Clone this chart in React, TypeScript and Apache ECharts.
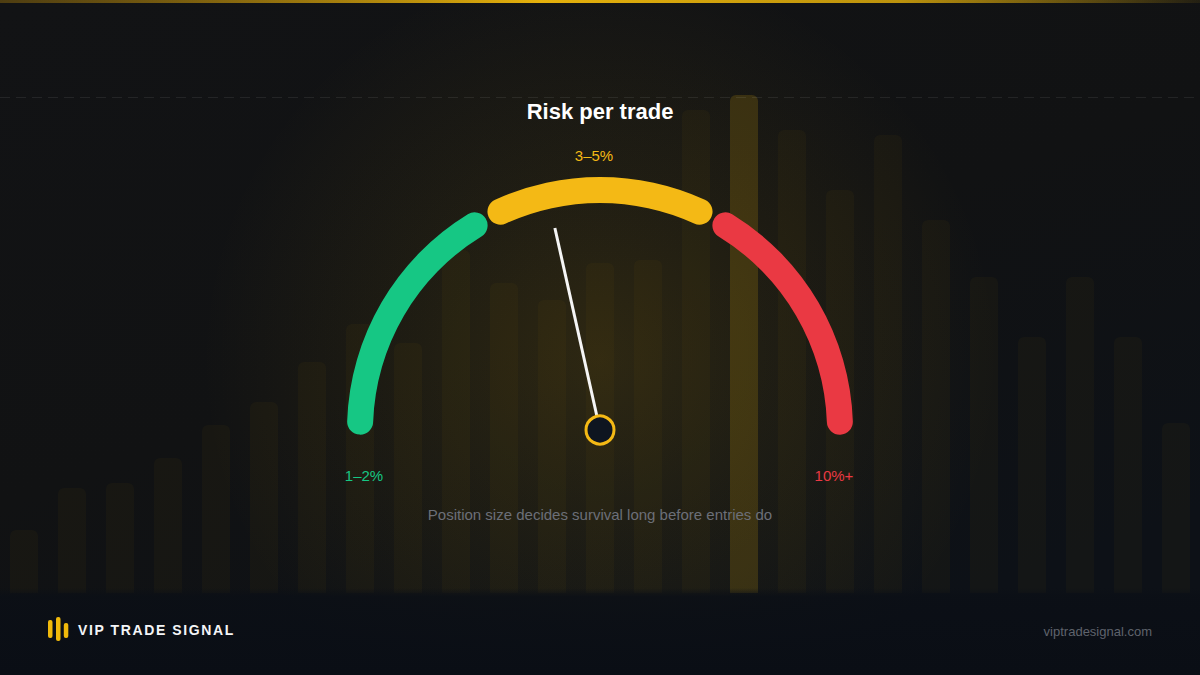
import React, { useEffect, useRef } from "react";
import * as echarts from "echarts";

// ---------- data ----------
const barCategories = ["1", "2", "3", "4", "5", "6", "7", "8", "9", "10", "11", "12", "13", "14", "15", "16", "17", "18", "19", "20", "21", "22", "23", "24", "25"];
const barValues = [63, 105, 110, 135, 168, 191, 231, 269, 250, 343, 310, 293, 330, 333, 483, 498, 463, 403, 458, 373, 316, 256, 316, 256, 170];
const highlightBarIndex = 15;

const segmentLabels = ["1–2%", "3–5%", "10%+"];
const segmentColors = ["#16c784", "#f4b915", "#ea3943"];
const segmentStartAngles = [178, 114.5, 58.5];
const segmentEndAngles = [121.5, 65.5, 2];

const needleValue = 43; // on a 0–100 scale spanning the half circle
const gaugeMin = 0;
const gaugeMax = 100;

const titleText = "Risk per trade";
const subtitleText = "Position size decides survival long before entries do";
const brandText = "VIP TRADE SIGNAL";
const siteText = "viptradesignal.com";

// ---------- layout / style ----------
const FONT = '"Liberation Sans", Arial, Helvetica, sans-serif';
const CX = 600;
const CY = 430;
const ARC_W = 26;
const RADIUS = 240 + ARC_W / 2;
const labelOffsets: [number, number][] = [
  [-236, 45],
  [-6, -275],
  [234, 45],
];

export default function App() {
  const ref = useRef<HTMLDivElement>(null);

  useEffect(() => {
    if (!ref.current) return;
    const chart = echarts.init(ref.current, undefined, { renderer: "svg" });

    const segmentSeries = segmentLabels.map((label, i) => ({
      type: "gauge",
      center: [CX, CY],
      radius: RADIUS,
      startAngle: segmentStartAngles[i],
      endAngle: segmentEndAngles[i],
      min: 0,
      max: 1,
      z: 5,
      axisLine: {
        show: true,
        roundCap: true,
        lineStyle: { width: ARC_W, color: [[1, segmentColors[i]]] },
      },
      axisTick: { show: false },
      splitLine: { show: false },
      axisLabel: { show: false },
      pointer: { show: false },
      anchor: { show: false },
      progress: { show: false },
      title: {
        show: true,
        offsetCenter: labelOffsets[i],
        color: segmentColors[i],
        fontSize: 15,
        fontFamily: FONT,
      },
      detail: { show: false },
      data: [{ value: 0, name: label }],
    }));

    const option: any = {
      animation: false,
      backgroundColor: "#111214",
      title: [
        {
          text: titleText,
          left: "center",
          top: 100,
          padding: 0,
          textStyle: { color: "#ffffff", fontSize: 22, fontWeight: "bold", fontFamily: FONT },
        },
        {
          text: subtitleText,
          left: "center",
          top: 507,
          padding: 0,
          textStyle: { color: "#6c6f78", fontSize: 15, fontWeight: "normal", fontFamily: FONT },
        },
      ],
      grid: { left: 0, right: 0, top: 0, bottom: 82, containLabel: false },
      xAxis: {
        type: "category",
        data: barCategories,
        show: false,
        boundaryGap: true,
      },
      yAxis: { type: "value", min: 0, max: 593, show: false },
      graphic: [
        {
          type: "rect",
          z: -10,
          silent: true,
          shape: { x: 0, y: 0, width: 1200, height: 675 },
          style: {
            fill: {
              type: "linear",
              x: 0,
              y: 0,
              x2: 0.6,
              y2: 1,
              colorStops: [
                { offset: 0, color: "#121315" },
                { offset: 0.55, color: "#111213" },
                { offset: 1, color: "#0d1117" },
              ],
            },
          },
        },
        {
          type: "rect",
          z: -9,
          silent: true,
          shape: { x: 0, y: 0, width: 1200, height: 675 },
          style: {
            fill: {
              type: "radial",
              x: 600,
              y: 360,
              r: 400,
              global: true,
              colorStops: [
                { offset: 0, color: "rgba(240,185,11,0.13)" },
                { offset: 0.45, color: "rgba(240,185,11,0.065)" },
                { offset: 1, color: "rgba(240,185,11,0)" },
              ],
            },
          },
        },
        {
          type: "rect",
          z: 3,
          silent: true,
          shape: { x: 0, y: 588, width: 1200, height: 87 },
          style: {
            fill: {
              type: "linear",
              x: 0,
              y: 0,
              x2: 0,
              y2: 1,
              colorStops: [
                { offset: 0, color: "rgba(11,15,22,0)" },
                { offset: 0.1, color: "rgba(11,15,22,0.85)" },
                { offset: 1, color: "#0a0e15" },
              ],
            },
          },
        },
        {
          type: "rect",
          z: 4,
          silent: true,
          shape: { x: 0, y: 0, width: 1200, height: 3 },
          style: {
            fill: {
              type: "linear",
              x: 0,
              y: 0,
              x2: 1,
              y2: 0,
              colorStops: [
                { offset: 0, color: "rgba(190,140,10,0.35)" },
                { offset: 0.45, color: "rgba(240,185,11,0.95)" },
                { offset: 0.75, color: "rgba(230,178,11,0.8)" },
                { offset: 1, color: "rgba(240,185,11,0.08)" },
              ],
            },
          },
        },
        {
          type: "line",
          z: 4,
          silent: true,
          shape: { x1: 0, y1: 97.5, x2: 1200, y2: 97.5 },
          style: { stroke: "rgba(255,255,255,0.08)", lineWidth: 1, lineDash: [10, 6] },
        },
        {
          type: "rect",
          z: 6,
          shape: { x: 48, y: 620, width: 4.5, height: 18, r: 2 },
          style: { fill: "#f0b90b" },
        },
        {
          type: "rect",
          z: 6,
          shape: { x: 56, y: 617, width: 4.5, height: 24, r: 2 },
          style: { fill: "#f0b90b" },
        },
        {
          type: "rect",
          z: 6,
          shape: { x: 63.8, y: 623, width: 4.5, height: 15, r: 2 },
          style: { fill: "#f0b90b" },
        },
        {
          type: "text",
          z: 6,
          x: 1152,
          y: 631,
          style: {
            text: siteText,
            fill: "#5f636c",
            font: `13px ${FONT}`,
            align: "right",
            verticalAlign: "middle",
          } as any,
        },
      ],
      series: [
        {
          type: "bar",
          z: 1,
          silent: true,
          barWidth: 28,
          data: barValues.map((v, i) => ({
            value: v,
            itemStyle: {
              color: i === highlightBarIndex ? "rgba(240,185,11,0.16)" : "rgba(240,185,11,0.032)",
              borderRadius: [6, 6, 0, 0],
            },
          })),
        },
        ...segmentSeries,
        {
          type: "gauge",
          center: [CX, CY],
          radius: RADIUS,
          startAngle: 180,
          endAngle: 0,
          min: gaugeMin,
          max: gaugeMax,
          z: 8,
          axisLine: { show: false },
          axisTick: { show: false },
          splitLine: { show: false },
          axisLabel: { show: false },
          progress: { show: false },
          pointer: {
            show: true,
            icon: "rect",
            width: 3,
            length: 207,
            offsetCenter: [0, 0],
            itemStyle: { color: "#f5f5f5" },
          },
          anchor: {
            show: true,
            showAbove: true,
            size: 28,
            itemStyle: { color: "#0e1520", borderColor: "#f4b915", borderWidth: 3 },
          },
          title: { show: false },
          detail: { show: false },
          data: [{ value: needleValue }],
        },
      ],
    };

    chart.setOption(option);
    return () => chart.dispose();
  }, []);

  return (
    <div style={{ position: "absolute", left: 0, top: 0, width: 1200, height: 675 }}>
      <div ref={ref} style={{ position: "absolute", left: 0, top: 0, width: 1200, height: 675 }} />
      <div
        style={{
          position: "absolute",
          left: 78,
          top: 621,
          height: 18,
          lineHeight: "18px",
          fontFamily: FONT,
          fontWeight: "bold",
          fontSize: 14,
          letterSpacing: "1.6px",
          color: "#f4f5f7",
          whiteSpace: "nowrap",
          pointerEvents: "none",
        }}
      >
        {brandText}
      </div>
    </div>
  );
}
